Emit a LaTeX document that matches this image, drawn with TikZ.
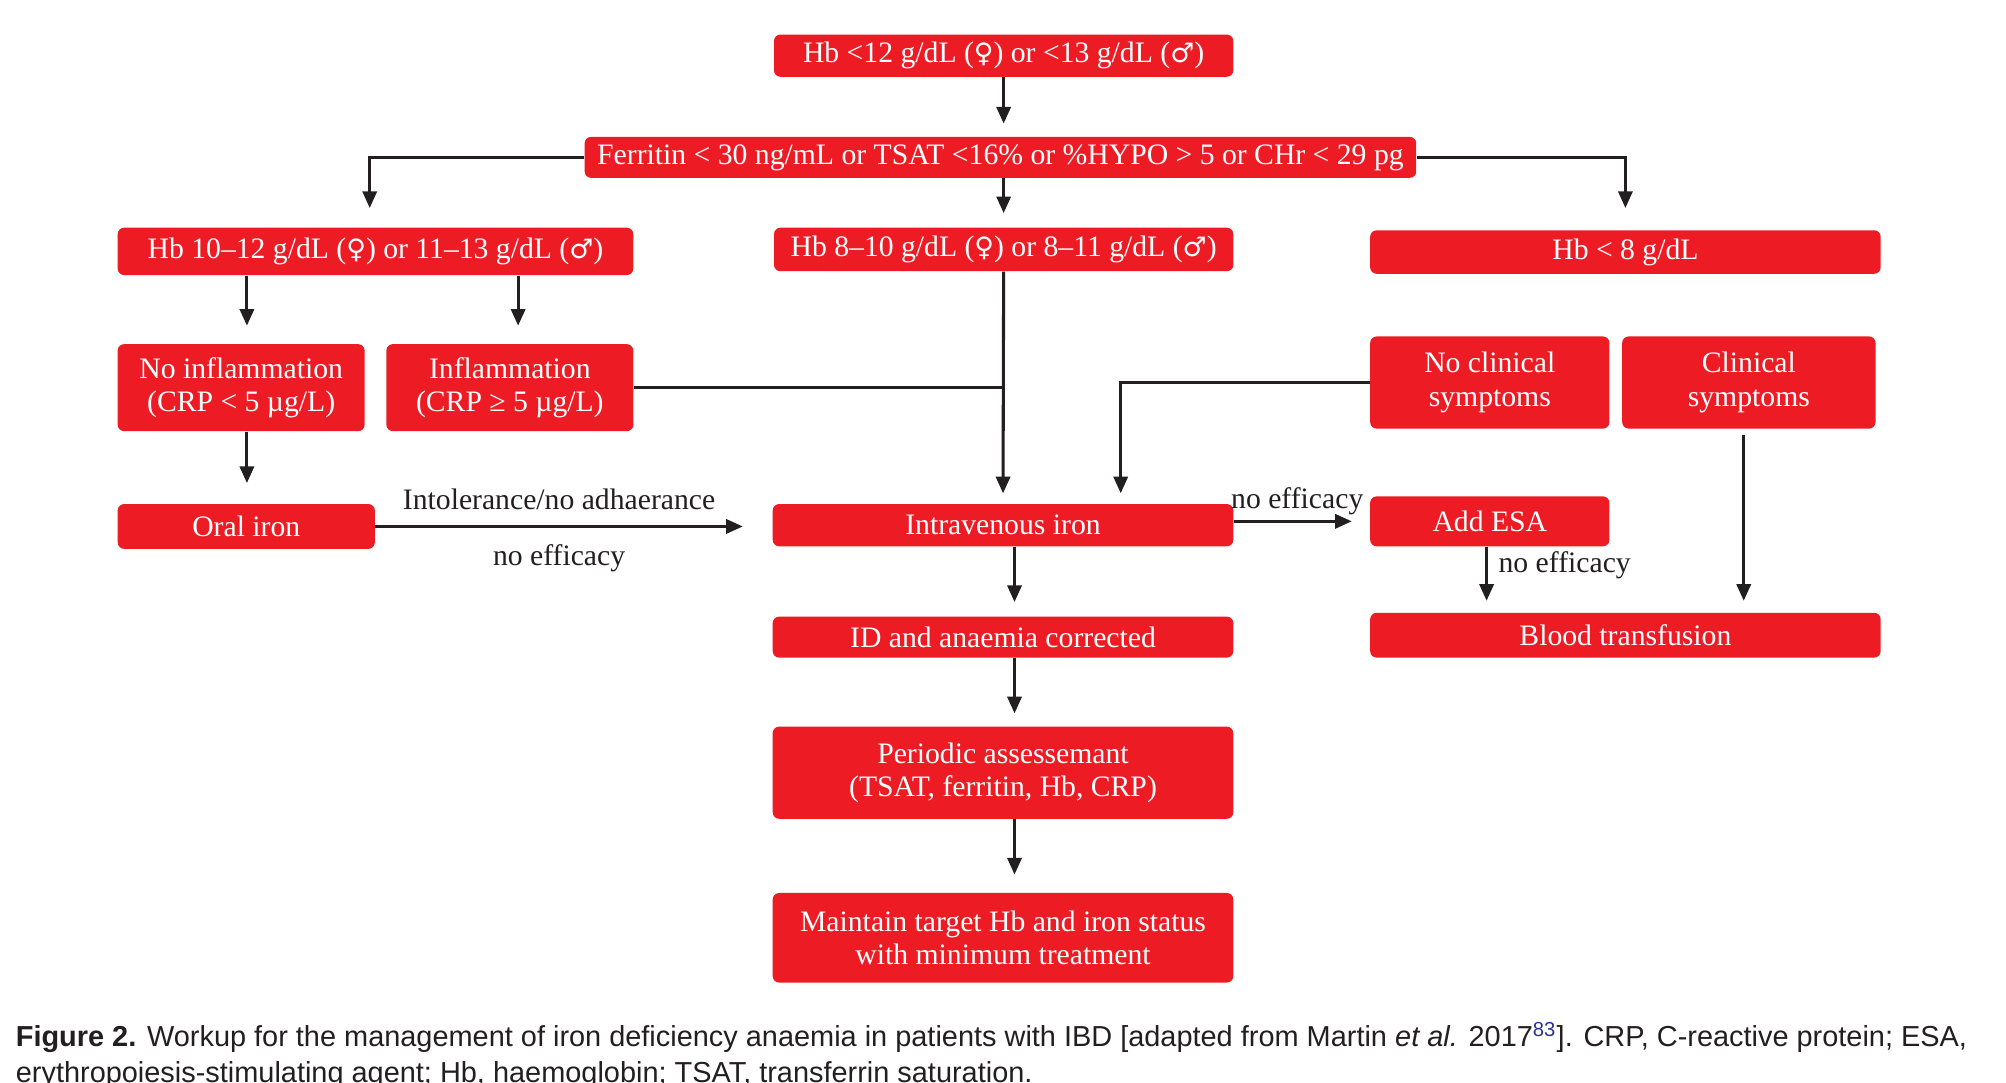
\documentclass[tikz,border=0pt]{standalone}
\usepackage{fontspec}
\setmainfont{Liberation Serif}
\newfontfamily\capfont{Liberation Sans}
\newfontfamily\symfont{DejaVu Sans}
\usetikzlibrary{arrows.meta,calc}
\definecolor{boxred}{HTML}{ED1C24}
\definecolor{ink}{HTML}{231F20}
\definecolor{reflink}{HTML}{2E3192}
\newcommand{\femsym}{{\symfont\fontsize{10.5}{13}\selectfont\char"2640}}
\newcommand{\malsym}{{\symfont\fontsize{10.5}{13}\selectfont\char"2642}}
\begin{document}
\begin{tikzpicture}[x=0.5pt,y=-0.5pt,
  bx/.style 2 args={fill=boxred, rounded corners=2.5pt, text=white,
    font=\fontsize{11.6}{13}\selectfont, align=center,
    minimum width=#1*0.5pt, minimum height=#2*0.5pt, inner sep=0pt},
  arr/.style={draw=ink, line width=1.2pt, -{Triangle[width=5.5pt,length=6.5pt]}},
  ln/.style={draw=ink, line width=1.2pt},
  lbl/.style={font=\fontsize{11.6}{13}\selectfont, text=ink, inner sep=0pt}]
\useasboundingbox[fill=white] (0,0) rectangle (1568,846);

% boxes
\node[bx={359}{33}] (b1) at (784.5,43.5) {Hb <12 g/dL (\femsym) or <13 g/dL (\malsym)};
\node[bx={650}{32}] (b2) at (782,123) {Ferritin < 30 ng/mL or TSAT <16\% or \%HYPO > 5 or CHr < 29 pg};
\node[bx={403}{37}] (b3) at (293.5,196.5) {Hb 10–12 g/dL (\femsym) or 11–13 g/dL (\malsym)};
\node[bx={359}{34}] (b4) at (784.5,195) {Hb 8–10 g/dL (\femsym) or 8–11 g/dL (\malsym)};
\node[bx={399}{34}] (b5) at (1270.5,197) {Hb < 8 g/dL};
\node[bx={193}{68}] (b6) at (188.5,303) {No inflammation\\(CRP < 5 µg/L)};
\node[bx={193}{68}] (b7) at (398.5,303) {Inflammation\\(CRP ≥ 5 µg/L)};
\node[bx={187}{72}] (b8) at (1164.5,299) {No clinical\\symptoms};
\node[bx={198}{72}] (b9) at (1367,299) {Clinical\\symptoms};
\node[bx={201}{35}] (b10) at (192.5,411.5) {Oral iron};
\node[bx={360}{33}] (b11) at (784,410.5) {Intravenous iron};
\node[bx={187}{39}] (b12) at (1164.5,407.5) {Add ESA};
\node[bx={399}{35}] (b13) at (1270.5,496.5) {Blood transfusion};
\node[bx={360}{32}] (b14) at (784,498) {ID and anaemia corrected};
\node[bx={360}{72}] (b15) at (784,604) {Periodic assessemant\\(TSAT, ferritin, Hb, CRP)};
\node[bx={360}{70}] (b16) at (784,733) {Maintain target Hb and iron status\\with minimum treatment};

% helper coordinates
\coordinate (c6) at ([xshift=2.25pt]b6.north);
\coordinate (c7) at ([xshift=3.25pt]b7.north);
\coordinate (c12) at ([xshift=-1.25pt]b12.south);
\coordinate (c9) at ([xshift=-2pt]b9.south);
\coordinate (c11) at ([xshift=4.5pt]b11.south);
\coordinate (c14) at ([xshift=4.5pt]b14.south);
\coordinate (c15) at ([xshift=4.5pt]b15.south);

% connectors
\draw[arr, shorten >=5pt] (b1.south) -- (b1.south |- b2.north);
\draw[arr, shorten >=7.5pt] (b2.west) -| ([xshift=-2.25pt]b3.north);
\draw[arr, shorten >=8.5pt] (b2.east) -| (b5.north);
\draw[arr, shorten >=5.5pt] (b4.north |- b2.south) -- (b4.north);
\draw[arr, shorten >=7pt] (c6 |- b3.south) -- (c6);
\draw[arr, shorten >=7pt] (c7 |- b3.south) -- (c7);
\draw[arr, shorten >=8pt] (c6 |- b6.south) -- (c6 |- b10.north);
\draw[ln] (b7.east) -- (b7.east -| b4.south);
\draw[arr, shorten >=4pt] (b4.south) -- (b11.north);
\draw[arr, shorten >=4pt] (b8.west) -| ([xshift=46pt]b11.north);
\draw[arr, shorten >=11.5pt] (b10.east) -- (b10.east -| b11.west);
\draw[arr, shorten >=7pt] (b12.west -| b11.east) -- (b12.west);
\draw[arr, shorten >=4.5pt] (c12) -- (c12 |- b13.north);
\draw[arr, shorten <=2.5pt, shorten >=4.5pt] (c9) -- (c9 |- b13.north);
\draw[arr, shorten >=5.5pt] (c11) -- (c11 |- b14.north);
\draw[arr, shorten >=5pt] (c14) -- (c14 |- b15.north);
\draw[arr, shorten >=7pt] (c15) -- (c15 |- b16.north);

% labels
\node[lbl] (l1) at (437,390) {Intolerance/no adhaerance};
\node[lbl] (l2) at (437,436) {no efficacy};
\node[lbl] (l3) at (1014,392) {no efficacy};
\node[lbl, anchor=west] (l4) at (1171,442) {no efficacy};

% caption
\node[anchor=base west, inner sep=0pt, font=\capfont\fontsize{11.3}{14}\selectfont, text=ink] (cap1) at (12,818)
  {\textbf{Figure 2.} Workup for the management of iron deficiency anaemia in patients with IBD [adapted from Martin \textit{et al.} 2017\textsuperscript{\color{reflink}83}]. CRP, C-reactive protein; ESA,};
\node[anchor=base west, inner sep=0pt, font=\capfont\fontsize{11.3}{14}\selectfont, text=ink] (cap2) at (12,846)
  {erythropoiesis-stimulating agent; Hb, haemoglobin; TSAT, transferrin saturation.};
\end{tikzpicture}
\end{document}
